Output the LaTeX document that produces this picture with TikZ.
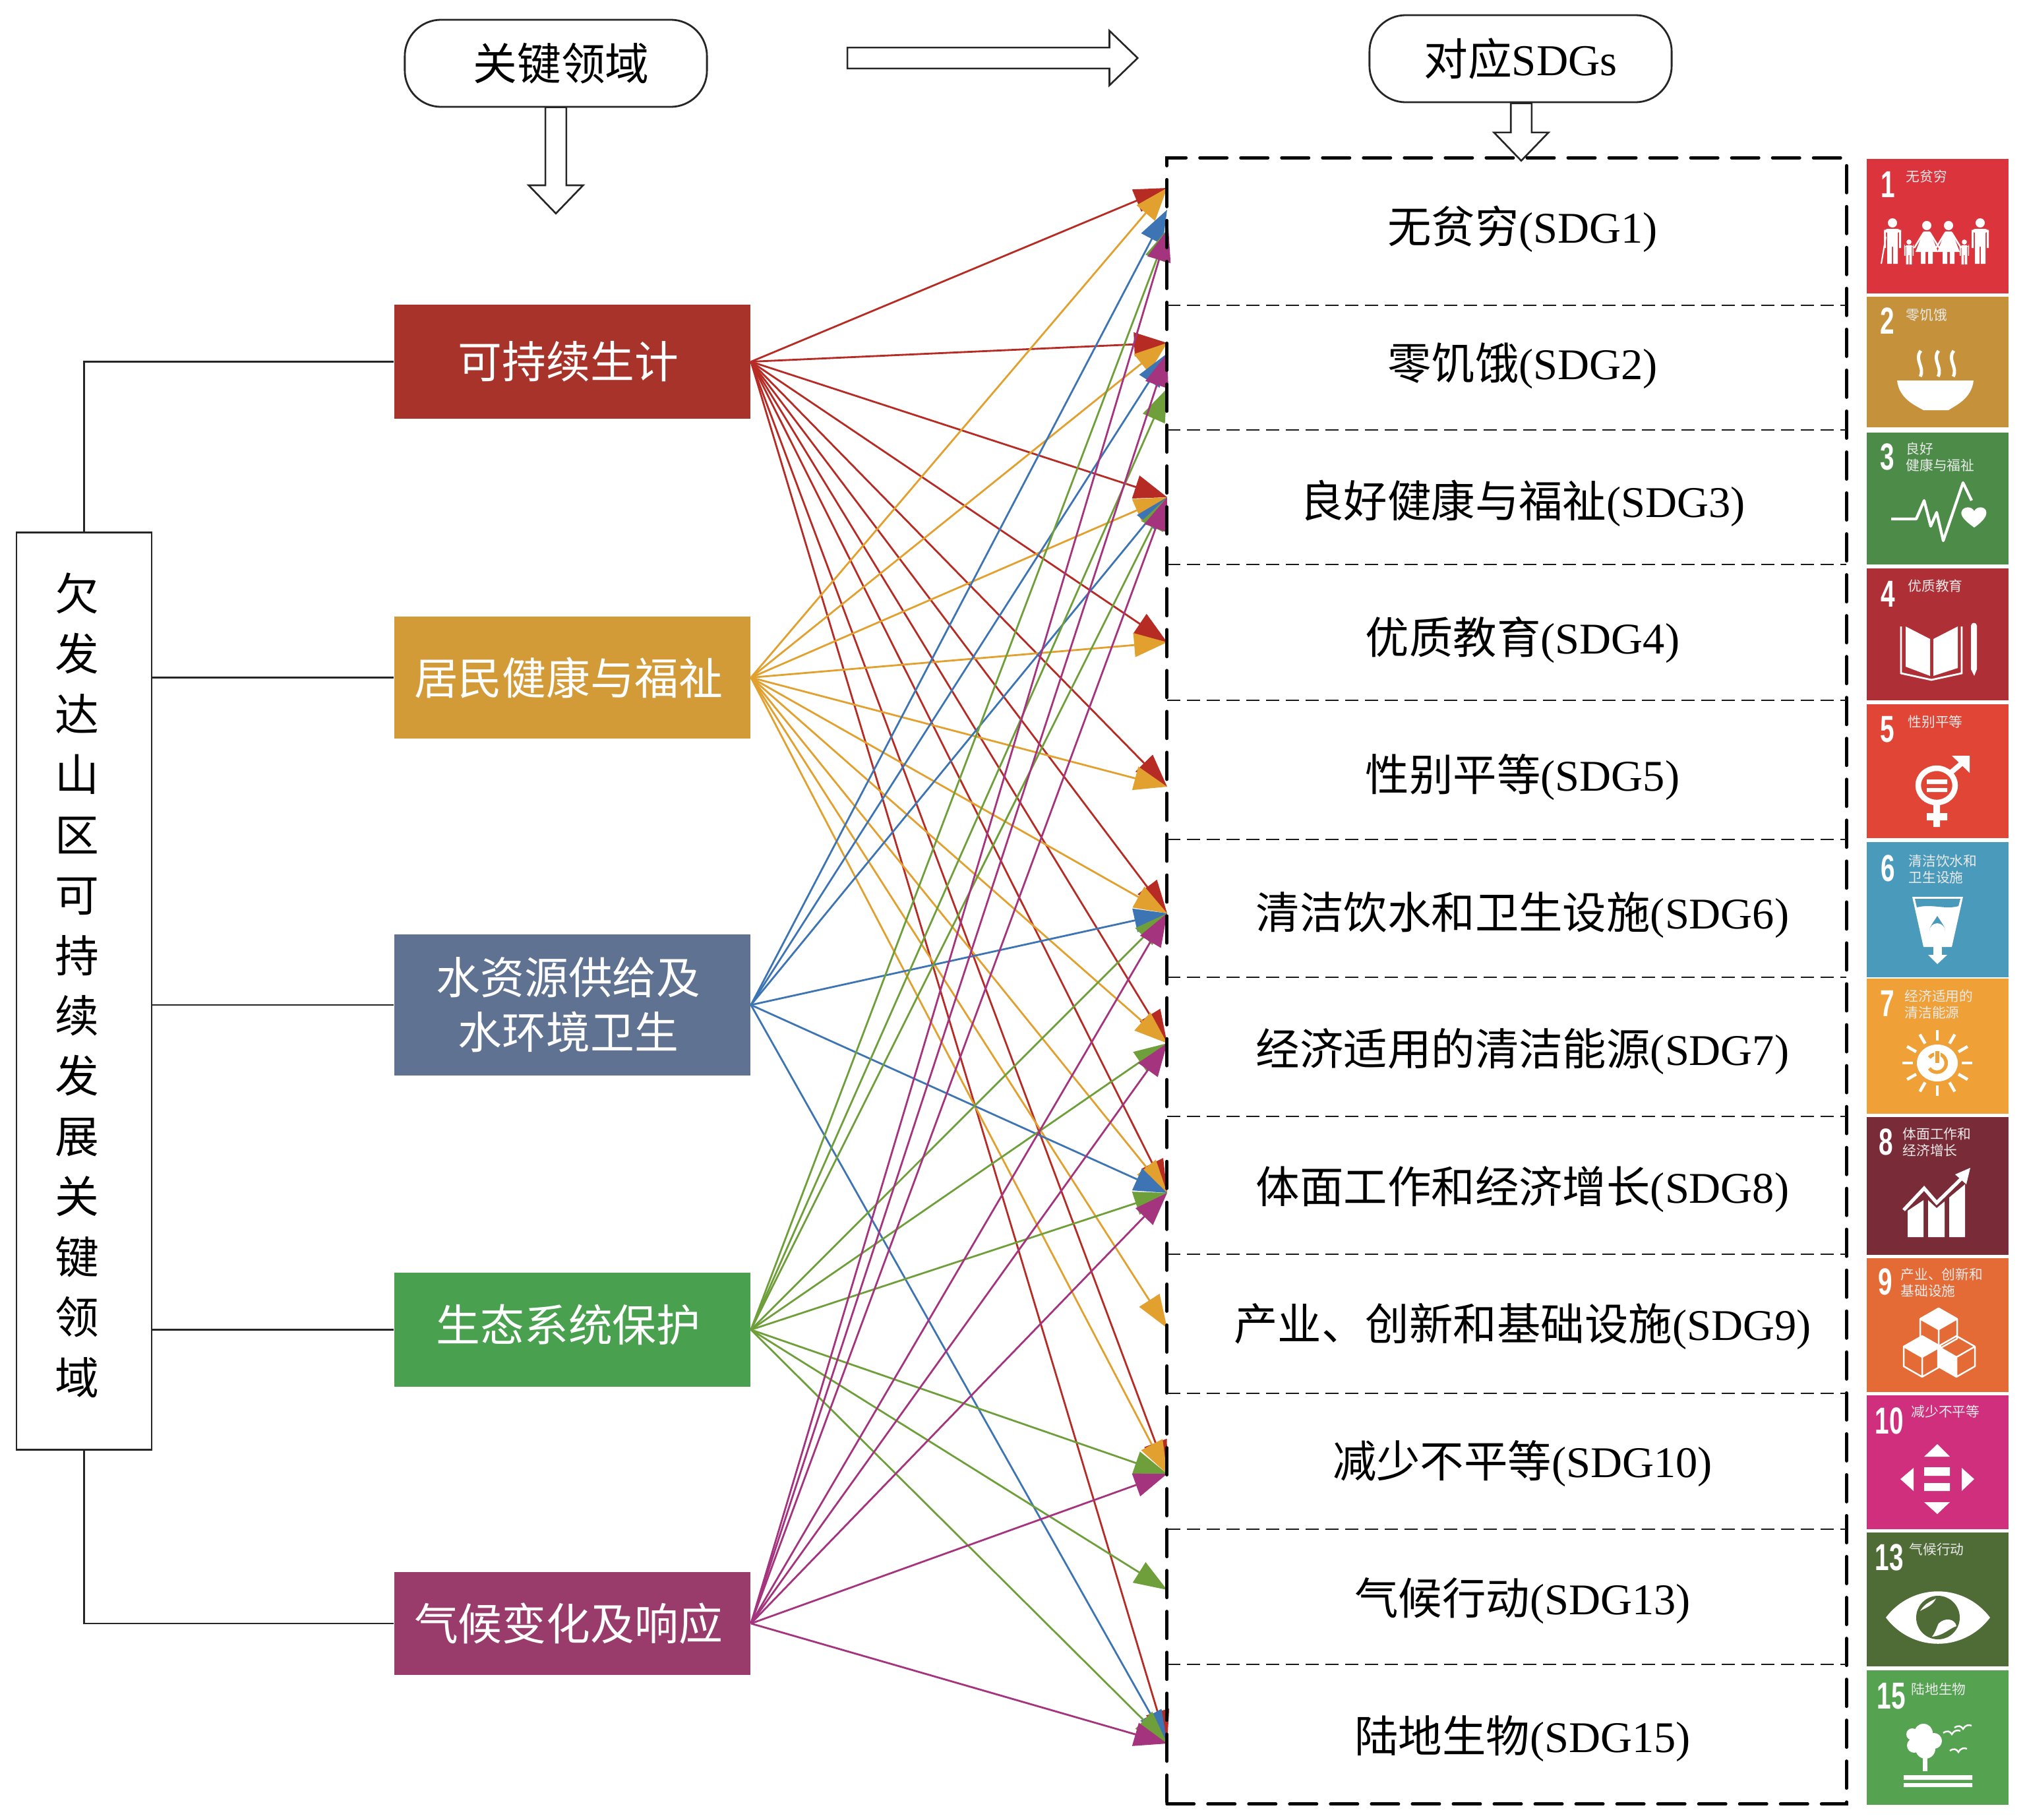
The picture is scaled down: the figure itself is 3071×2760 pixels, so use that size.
\documentclass[tikz,border=0pt]{standalone}
\usepackage{fontspec}
\setmainfont{Liberation Serif}
\setsansfont{Liberation Sans}
\newfontfamily\cjk{Noto Sans CJK SC}
\usetikzlibrary{arrows.meta,shapes.arrows}
\definecolor{boxred}{HTML}{A7332B}
\definecolor{boxorange}{HTML}{D39A38}
\definecolor{boxblue}{HTML}{5F7292}
\definecolor{boxgreen}{HTML}{49A04F}
\definecolor{boxpurple}{HTML}{993C6C}
\definecolor{fanred}{HTML}{B72B25}
\definecolor{fanorange}{HTML}{E2A02F}
\definecolor{fanblue}{HTML}{3D74B4}
\definecolor{fangreen}{HTML}{6F9F3A}
\definecolor{fanpurple}{HTML}{A5347F}
\definecolor{tilea}{HTML}{DB343C}
\definecolor{tileb}{HTML}{C5913B}
\definecolor{tilec}{HTML}{4C8C48}
\definecolor{tiled}{HTML}{AE2F36}
\definecolor{tilee}{HTML}{E04535}
\definecolor{tilef}{HTML}{4A9ABB}
\definecolor{tileg}{HTML}{EFA036}
\definecolor{tileh}{HTML}{7A2B38}
\definecolor{tilei}{HTML}{E46A36}
\definecolor{tilej}{HTML}{CF2F7C}
\definecolor{tilek}{HTML}{4F6B36}
\definecolor{tilel}{HTML}{55A350}
\newcommand{\lat}[1]{{\rmfamily #1}}
\newcommand{\nudge}{\hspace*{-.12cm}}
\tikzset{
  adult/.pic={
    \fill[white] (0,0) circle (7);
    \fill[white,rounded corners=1.5] (-13,9) rectangle (13,15);
    \fill[white] (-13,12) rectangle (-10,38) (10,12) rectangle (13,38) (-8,9) rectangle (8,36)
      (-8,36) rectangle (-1,62) (1,36) rectangle (8,62);
  },
  lady/.pic={
    \fill[white] (0,0) circle (7);
    \fill[white] (-5,9) -- (5,9) -- (17,40) -- (-17,40) -- cycle;
    \fill[white] (-9,40) rectangle (-2,58) (2,40) rectangle (9,58);
    \draw[white,line width=.7pt] (-5,11) -- (-19,34) (5,11) -- (19,34);
  },
  cube/.pic={
    \draw[white,line width=.7pt,line join=round] (0,0) -- (28,16) -- (0,32) -- (-28,16) -- cycle
      (-28,16) -- (-28,46) -- (0,62) -- (28,46) -- (28,16) (0,32) -- (0,62);
  },
}
\begin{document}
\begin{tikzpicture}[
    x=.01cm, y=-.01cm,
    thinline/.style={draw=black!85, line width=.75pt},
    keybox/.style={draw=black!85, line width=.8pt, rounded corners=.55cm, minimum width=4.58cm, minimum height=1.32cm,
      inner sep=0pt, font=\cjk\fontsize{19}{22}\selectfont},
    hollow/.style={single arrow, draw=black!85, fill=white, line width=.75pt, inner sep=.145cm,
      single arrow head extend=.255cm, single arrow tip angle=88},
    area/.style={minimum width=5.4cm, inner sep=0pt, text=white, align=center,
      font=\cjk\fontsize{19}{23.6}\selectfont},
    goal/.style={inner sep=0pt, font=\cjk\fontsize{18.9}{22}\selectfont},
    fan/.style={line width=.8pt, -{Triangle[length=.5cm,width=.36cm]}},
    tile/.style={minimum width=2.15cm, inner sep=0pt},
    tilenum/.style={anchor=west, inner sep=0pt, text=white, xscale=.68, transform shape,
      font=\sffamily\bfseries\fontsize{16.2}{18}\selectfont},
    tiletext/.style={anchor=west, inner sep=0pt, text=white!92!black, align=left,
      font=\cjk\fontsize{5.9}{7.1}\selectfont},
    sep/.style={black!90, line width=.72pt, dash pattern=on .2cm off .1cm},
]
\useasboundingbox (0,0) rectangle (3071,2760);

% headers
\node[keybox] (keyhead) at (843,96) {\hspace*{.16cm}关键领域};
\node[keybox] (sdghead) at (2306,89) {\raisebox{-.07cm}{对应\lat{SDGs}}};
\node[hollow, shape border rotate=270, minimum width=.80cm, minimum height=1.61cm] (keydown) at (843,235) {};
\node[hollow, shape border rotate=270, minimum width=.80cm, minimum height=.87cm] (sdgdown) at (2307,192) {};
\node[hollow, minimum width=.80cm, minimum height=4.40cm] (across) at (1497,88) {};

% left column
\node[draw=black!85, line width=.8pt, minimum width=2.05cm, minimum height=13.9cm] (side) at (127.5,1503) {};
\node[inner sep=0pt, align=center, font=\cjk\fontsize{19}{26}\selectfont] (sidetext) at (117,1494)
  {欠\\发\\达\\山\\区\\可\\持\\续\\发\\展\\关\\键\\领\\域};

\node[area, fill=boxred, minimum height=1.73cm] (live) at (868,548.5) {\nudge\raisebox{-.07cm}{可持续生计}};
\node[area, fill=boxorange, minimum height=1.85cm] (health) at (868,1027.5) {\nudge 居民健康与福祉};
\node[area, fill=boxblue, minimum height=2.14cm] (water) at (868,1524) {\nudge 水资源供给及\\\nudge 水环境卫生};
\node[area, fill=boxgreen, minimum height=1.73cm] (eco) at (868,2016.5) {\nudge\raisebox{.2cm}{生态系统保护}};
\node[area, fill=boxpurple, minimum height=1.56cm] (climate) at (868,2462) {\nudge\raisebox{-.04cm}{气候变化及响应}};

\draw[thinline] (side.north) |- (live.west);
\draw[thinline] (side.east |- health.west) -- (health.west);
\draw[thinline] (side.east |- water.west) -- (water.west);
\draw[thinline] (side.east |- eco.west) -- (eco.west);
\draw[thinline] (side.south) |- (climate.west);

% arrow ends on the frame
\coordinate (t1a) at (1770,285);
\coordinate (t1b) at (1770,318);
\coordinate (t1c) at (1772,346);
\coordinate (t2a) at (1770,520);
\coordinate (t2b) at (1770,536);
\coordinate (t2c) at (1770,589);
\coordinate (t3) at (1770,754);
\coordinate (t4) at (1770,974);
\coordinate (t5) at (1770,1193);
\coordinate (t6) at (1770,1385);
\coordinate (t7) at (1770,1582);
\coordinate (t8) at (1770,1809);
\coordinate (t9) at (1770,2014);
\coordinate (t10) at (1770,2235);
\coordinate (t13) at (1770,2411);
\coordinate (t15) at (1770,2644);

\foreach \t in {t1a,t2a,t3,t4,t5,t6,t7,t8,t10,t15}
  \draw[fan, fanred] (live.east) -- (\t);
\foreach \t in {t1a,t2a,t3,t4,t5,t6,t7,t8,t9,t10}
  \draw[fan, fanorange] (health.east) -- (\t);
\foreach \t in {t1b,t2b,t3,t6,t8,t15}
  \draw[fan, fanblue] (water.east) -- (\t);
\foreach \t in {t1c,t2c,t3,t6,t7,t8,t10,t13,t15}
  \draw[fan, fangreen] (eco.east) -- (\t);
\foreach \t in {t1c,t2b,t3,t6,t7,t8,t10,t15}
  \draw[fan, fanpurple] (climate.east) -- (\t);

% goals frame
\node[draw=black, line width=1.4pt, line cap=round, dash pattern=on .41cm off .21cm, minimum width=10.3cm, minimum height=24.95cm] (frame) at (2285,1487.5) {};
\foreach \y in {463,652,856,1062,1273,1482,1693,1902,2113,2319,2524}
  \draw[sep] (1770,\y) -- (2800,\y);

\node[goal] (goala) at (2309,347) {无贫穷\lat{(SDG1)}};
\node[goal] (goalb) at (2309,555) {零饥饿\lat{(SDG2)}};
\node[goal] (goalc) at (2309,763) {良好健康与福祉\lat{(SDG3)}};
\node[goal] (goald) at (2309,970) {优质教育\lat{(SDG4)}};
\node[goal] (goale) at (2309,1178) {性别平等\lat{(SDG5)}};
\node[goal] (goalf) at (2309,1388) {清洁饮水和卫生设施\lat{(SDG6)}};
\node[goal] (goalg) at (2309,1595) {经济适用的清洁能源\lat{(SDG7)}};
\node[goal] (goalh) at (2309,1804) {体面工作和经济增长\lat{(SDG8)}};
\node[goal] (goali) at (2309,2012) {产业、创新和基础设施\lat{(SDG9)}};
\node[goal] (goalj) at (2309,2219) {减少不平等\lat{(SDG10)}};
\node[goal] (goalk) at (2309,2428) {气候行动\lat{(SDG13)}};
\node[goal] (goall) at (2309,2637) {陆地生物\lat{(SDG15)}};

% tiles
\node[tile, fill=tilea, minimum height=2.04cm] (tilea) at (2938.5,343) {};
\node[tile, fill=tileb, minimum height=1.98cm] (tileb) at (2938.5,549) {};
\node[tile, fill=tilec, minimum height=2.00cm] (tilec) at (2938.5,756) {};
\node[tile, fill=tiled, minimum height=2.00cm] (tiled) at (2938.5,962) {};
\node[tile, fill=tilee, minimum height=2.03cm] (tilee) at (2938.5,1169.5) {};
\node[tile, fill=tilef, minimum height=2.05cm] (tilef) at (2938.5,1379.5) {};
\node[tile, fill=tileg, minimum height=2.05cm] (tileg) at (2938.5,1586.5) {};
\node[tile, fill=tileh, minimum height=2.09cm] (tileh) at (2938.5,1798.5) {};
\node[tile, fill=tilei, minimum height=2.03cm] (tilei) at (2938.5,2009.5) {};
\node[tile, fill=tilej, minimum height=2.03cm] (tilej) at (2938.5,2217.5) {};
\node[tile, fill=tilek, minimum height=2.03cm] (tilek) at (2938.5,2425.5) {};
\node[tile, fill=tilel, minimum height=2.04cm] (tilel) at (2938.5,2635) {};

\node[tilenum] (numa) at (2852,280) {1};
\node[tilenum] (numb) at (2851,487) {2};
\node[tilenum] (numc) at (2851,693) {3};
\node[tilenum] (numd) at (2852,901) {4};
\node[tilenum] (nume) at (2851,1106) {5};
\node[tilenum] (numf) at (2852,1317) {6};
\node[tilenum] (numg) at (2851,1522) {7};
\node[tilenum] (numh) at (2849,1732) {8};
\node[tilenum] (numi) at (2848,1944) {9};
\node[tilenum] (numj) at (2843,2155) {10};
\node[tilenum] (numk) at (2843,2362) {13};
\node[tilenum] (numl) at (2846,2572) {15};

\node[tiletext] (texta) at (2890,268) {无贫穷};
\node[tiletext] (textb) at (2890,478) {零饥饿};
\node[tiletext] (textc) at (2890,693) {良好\\健康与福祉};
\node[tiletext] (textd) at (2893,889) {优质教育};
\node[tiletext] (texte) at (2893,1095) {性别平等};
\node[tiletext] (textf) at (2894,1318) {清洁饮水和\\卫生设施};
\node[tiletext] (textg) at (2888,1523) {经济适用的\\清洁能源};
\node[tiletext] (texth) at (2885,1732) {体面工作和\\经济增长};
\node[tiletext] (texti) at (2882,1945) {产业、创新和\\基础设施};
\node[tiletext] (textj) at (2898,2141) {减少不平等};
\node[tiletext] (textk) at (2895,2350) {气候行动};
\node[tiletext] (textl) at (2898,2562) {陆地生物};

% tile 1
\pic at (2870,338) {adult};
\pic[scale=.55] at (2895,367) {adult};
\pic at (2922,342) {lady};
\pic at (2955,342) {lady};
\pic[scale=.55] at (2979,367) {adult};
\pic at (3003,338) {adult};
\draw[white, line width=.6pt] (2853,400) -- (2860,359);
% tile 2
\fill[white] (2877,577) -- (2993,577) .. controls (2990,605) and (2965,615) .. (2955,622) -- (2917,622) .. controls (2905,615) and (2880,605) .. (2877,577);
\foreach \x in {2910,2937,2960}
  \draw[white, line width=1.4pt] (\x+3,532) .. controls (\x-8,545) and (\x+10,558) .. (\x+2,571);
% tile 3
\draw[white, line width=1.2pt, line join=round] (2868,787) -- (2906,787) -- (2918,759) -- (2928,798) -- (2937,777) -- (2947,820) -- (2977,732) -- (2990,759);
\fill[white] (2994,800) .. controls (2980,790) and (2972,782) .. (2975,775) .. controls (2978,768) and (2990,767) .. (2994,775) .. controls (2998,767) and (3010,768) .. (3012,775) .. controls (3014,782) and (3008,790) .. (2994,800);
% tile 4
\draw[white, line width=.8pt] (2883,950) -- (2883,1021) -- (2929,1031) -- (2975,1021) -- (2975,950);
\fill[white] (2890,950) -- (2927,969) -- (2927,1025) -- (2890,1011) -- cycle;
\fill[white] (2932,969) -- (2969,950) -- (2969,1013) -- (2932,1025) -- cycle;
\fill[white] (2989,949) arc (180:360:4.5) -- (2998,1015) -- (2994,1025) -- (2989,1015) -- cycle;
% tile 5
\draw[white, line width=2.4pt] (2937,1191) ellipse (28 and 26);
\fill[white] (2922,1182) rectangle (2953,1189) (2922,1195) rectangle (2953,1201);
\fill[white] (2932,1217) rectangle (2942,1254) (2922,1233) rectangle (2953,1244);
\draw[white, line width=2.2pt] (2958,1172) -- (2978,1155);
\fill[white] (2960,1146) -- (2987,1146) -- (2987,1172) -- cycle;
% tile 6
\fill[white] (2900,1360) -- (2977,1360) -- (2960,1436) -- (2917,1436) -- cycle;
\fill[tilef] (2904,1363) -- (2973,1363) -- (2970,1374) .. controls (2950,1380) and (2930,1370) .. (2907,1376) -- cycle;
\fill[tilef] (2938,1389) .. controls (2945,1400) and (2950,1406) .. (2950,1412) arc (0:-180:12) .. controls (2926,1406) and (2931,1400) .. (2938,1389);
\fill[white] (2932,1436) rectangle (2945,1448);
\fill[white] (2924,1448) -- (2953,1448) -- (2938,1462) -- cycle;
% tile 7
\fill[white] (2938,1612) ellipse (31 and 28);
\draw[tileg, line width=1.5pt] (2926,1604) arc (-145:145:14 and 14);
\draw[white, line width=3pt] (2938,1592) -- (2938,1612);
\draw[tileg, line width=1.5pt] (2938,1594) -- (2938,1612);
\foreach \a in {0,30,...,330}
  \draw[white, line width=1.3pt] (2938,1612) ++(\a:37 and 34) -- ++(\a:16);
% tile 8
\fill[white] (2893,1836) -- (2917,1820) -- (2917,1876) -- (2893,1876) -- cycle;
\fill[white] (2924,1820) -- (2937,1832) -- (2949,1822) -- (2949,1876) -- (2924,1876) -- cycle;
\fill[white] (2956,1816) -- (2980,1796) -- (2980,1876) -- (2956,1876) -- cycle;
\draw[white, line width=1.5pt] (2887,1835) -- (2918,1802) -- (2937,1824) -- (2975,1787);
\fill[white] (2988,1771) -- (2982,1796) -- (2965,1781) -- cycle;
% tile 9
\fill[white] (2940,1984) -- (2968,2000) -- (2940,2016) -- (2912,2000) -- cycle;
\fill[white] (2915,2026) -- (2943,2042) -- (2915,2058) -- (2887,2042) -- cycle;
\fill[white] (2939,2042) -- (2967,2058) -- (2967,2088) -- (2939,2072) -- cycle;
\pic at (2940,1984) {cube};
\pic at (2915,2026) {cube};
\pic at (2967,2026) {cube};
% tile 10
\fill[white] (2938,2190) -- (2957,2209) -- (2918,2209) -- cycle;
\fill[white] (2918,2278) -- (2957,2278) -- (2938,2296) -- cycle;
\fill[white] (2882,2243) -- (2902,2226) -- (2902,2261) -- cycle;
\fill[white] (2975,2226) -- (2994,2243) -- (2975,2261) -- cycle;
\fill[white] (2918,2225) rectangle (2957,2238) (2918,2249) rectangle (2957,2261);
% tile 13
\fill[white] (2860,2453) .. controls (2900,2400) and (2978,2400) .. (3018,2453) .. controls (2978,2506) and (2900,2506) .. (2860,2453);
\fill[tilek] (2939,2453) circle (33);
\fill[white] (2912,2443) .. controls (2920,2430) and (2930,2428) .. (2936,2424) .. controls (2930,2436) and (2920,2438) .. (2912,2443);
\fill[white] (2940,2462) .. controls (2950,2452) and (2965,2455) .. (2967,2466) .. controls (2955,2470) and (2948,2480) .. (2930,2482) .. controls (2936,2474) and (2936,2470) .. (2940,2462);
% tile 15
\fill[white] (2900,2630) circle (9) (2917,2628) circle (14) (2933,2640) circle (12) (2903,2647) circle (11) (2920,2652) circle (15);
\fill[white] (2916,2665) rectangle (2923,2686);
\fill[white] (2887,2692) rectangle (2991,2699) (2887,2704) rectangle (2991,2710);
\foreach \x/\y in {2960/2628,2977/2620,2970/2655}
  \draw[white, line width=.7pt] (\x-13,\y) .. controls (\x-7,\y-4) and (\x-3,\y-3) .. (\x,\y+2) .. controls (\x+3,\y-4) and (\x+9,\y-5) .. (\x+13,\y-3);
\end{tikzpicture}
\end{document}
